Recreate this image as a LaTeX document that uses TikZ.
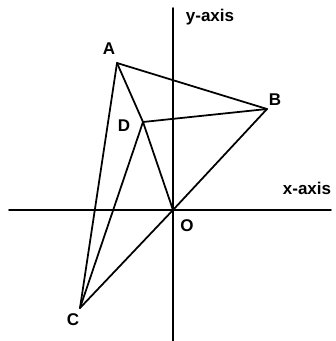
\documentclass[tikz,border=0pt]{standalone}
\usepackage{fontspec}
\setmainfont{Liberation Sans}
\usetikzlibrary{positioning}

\begin{document}
\begin{tikzpicture}[x=0.03cm,y=-0.03cm, every node/.style={font=\fontsize{14.5}{17}\selectfont\bfseries, inner sep=0pt},
    seg/.style={line width=1.5pt, line cap=round}]
      \useasboundingbox (0,0) rectangle (335,341);
      % axes
      \coordinate (xl) at (9,210);
      \coordinate (xr) at (331,210);
      \coordinate (yt) at (173,8);
      \coordinate (yb) at (173,341);
      \draw[seg] (xl) -- (xr);
      \draw[seg] (yt) -- (yb);
      % points
      \coordinate (O) at (173,210);
      \coordinate (A) at (117,63);
      \coordinate (B) at (267,109);
      \coordinate (C) at (80,308);
      \coordinate (D) at (143,122);
      \draw[seg] (A) -- (B);
      \draw[seg] (A) -- (C);
      \draw[seg] (A) -- (D) -- (O);
      \draw[seg] (D) -- (B);
      \draw[seg] (D) -- (C);
      \draw[seg] (C) -- (O) -- (B);
      % labels
      \node (lA) at (109,49) {A};
      \node (lB) at (275,100) {B};
      \node (lC) at (73,320) {C};
      \node (lD) at (124,126) {D};
      \node (lO) at (187,226) {O};
      \node (lx) at (307,188) {x-axis};
      \node (ly) at (210,17) {y-axis};
    \end{tikzpicture}
\end{document}
